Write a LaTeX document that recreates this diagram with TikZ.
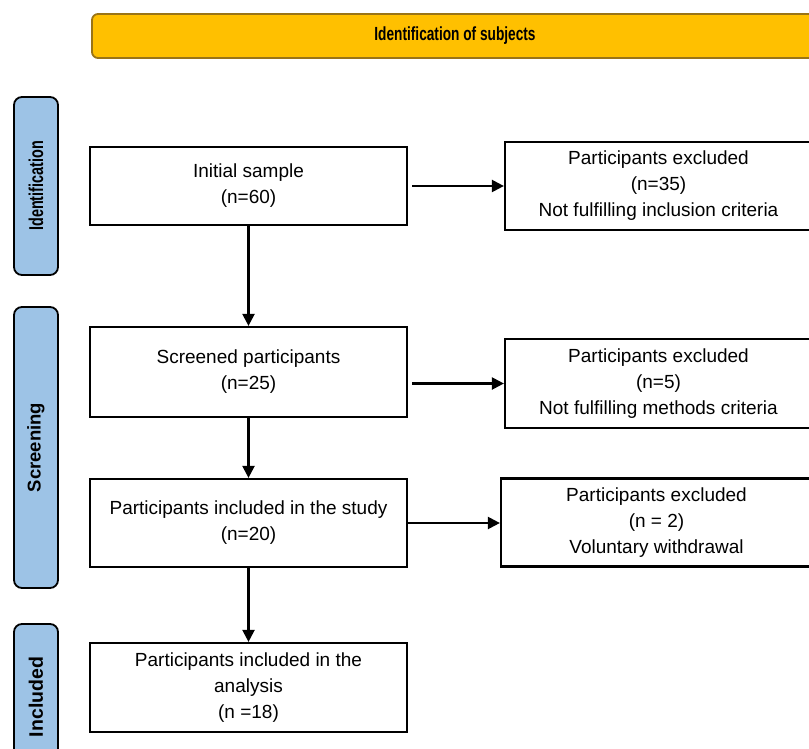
\documentclass[tikz,border=0pt]{standalone}
\usepackage{fontspec}
\usepackage{graphicx}
\setmainfont{Liberation Sans}
\usetikzlibrary{arrows.meta}
\definecolor{gold}{HTML}{FFC000}
\definecolor{goldline}{HTML}{9A7416}
\definecolor{sideblue}{HTML}{9DC3E6}
\tikzset{
  box/.style={draw=black, line width=2.2pt, fill=white, align=center,
    font=\fontsize{19}{26}\selectfont, inner sep=0pt},
  side/.style={draw=black, line width=1.8pt, fill=sideblue, rounded corners=8pt,
    minimum width=44pt, inner sep=0pt},
  arr/.style={line width=2.2pt, -{Triangle[length=12pt,width=12pt]}},
}
\begin{document}
\begin{tikzpicture}[x=1pt,y=-1pt]
\useasboundingbox (0,0) rectangle (809,749);
\clip (0,0) rectangle (809,749);
\fill[white] (0,0) rectangle (809,749);
% banner
\node[draw=goldline, line width=1.8pt, fill=gold, rounded corners=6pt,
  minimum width=726pt, minimum height=44pt, inner sep=0pt,
  font=\fontsize{19}{22}\selectfont\bfseries] (banner) at (455,36)
  {\scalebox{0.72}[1]{Identification of subjects}};
% side labels
\node[side, minimum height=178pt] (idlab) at (36,186)
  {\rotatebox{90}{\fontsize{20}{22}\selectfont\bfseries\scalebox{0.72}[1]{Identification}}};
\node[side, minimum height=281pt] (scrlab) at (36,447.5)
  {\rotatebox{90}{\fontsize{18.5}{22}\selectfont\bfseries Screening}};
\node[side, minimum height=146pt] (inclab) at (36,697)
  {\rotatebox{90}{\fontsize{19.5}{22}\selectfont\bfseries Included}};
% main boxes
\node[box, minimum width=317pt, minimum height=78pt] (b1) at (248.5,186)
  {Initial sample\\(n=60)};
\node[box, minimum width=317pt, minimum height=90pt] (b2) at (248.5,372)
  {Screened participants\\(n=25)};
\node[box, minimum width=317pt, minimum height=88pt] (b3) at (248.5,523)
  {Participants included in the study\\(n=20)};
\node[box, minimum width=317pt, minimum height=89pt] (b4) at (248.5,687.5)
  {Participants included in the\\analysis\\(n =18)};
% exclusion boxes
\node[box, minimum width=307pt, minimum height=88pt] (e1) at (658.5,186)
  {Participants excluded\\(n=35)\\Not fulfilling inclusion criteria};
\node[box, minimum width=307pt, minimum height=89pt] (e2) at (658.5,383.5)
  {Participants excluded\\(n=5)\\Not fulfilling methods criteria};
\node[box, minimum width=311pt, minimum height=88pt] (e3) at (656.5,522.5)
  {Participants excluded\\(n = 2)\\Voluntary withdrawal};
% connectors
\draw[arr] ([xshift=4pt]b1.east) -- (e1.west);
\draw[arr] ([xshift=4pt]b2.east |- e2.west) -- (e2.west);
\draw[arr] (b3.east) -- (b3.east -| e3.west);
\draw[arr] (b1.south) -- (b2.north);
\draw[arr] (b2.south) -- (b3.north);
\draw[arr] (b3.south) -- (b4.north);
\end{tikzpicture}
\end{document}
